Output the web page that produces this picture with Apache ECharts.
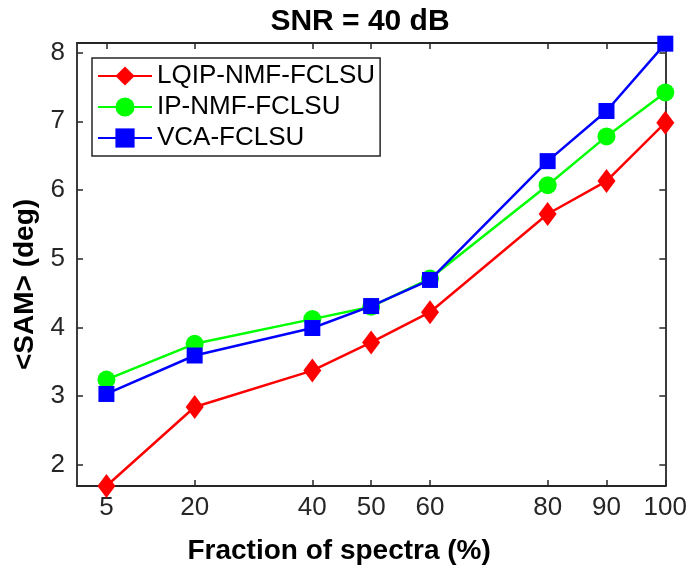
<!DOCTYPE html>
<html>
<head>
<meta charset="utf-8">
<script src="https://cdn.jsdelivr.net/npm/echarts@6/dist/echarts.min.js"></script>
<style>html,body{margin:0;padding:0;background:#fff}#c{width:690px;height:570px}</style>
</head>
<body>
<div id="c"></div>
<script>
const xValues = [5, 20, 40, 50, 60, 80, 90, 100];
const xTicks = [5, 20, 40, 50, 60, 80, 90, 100];
const yTicks = [2, 3, 4, 5, 6, 7, 8];
const lqip = [1.69, 2.84, 3.37, 3.78, 4.22, 5.65, 6.13, 6.98];
const ipnmf = [3.24, 3.76, 4.12, 4.30, 4.71, 6.07, 6.78, 7.42];
const vca = [3.03, 3.59, 3.99, 4.31, 4.69, 6.42, 7.15, 8.13];
const seriesNames = ['LQIP-NMF-FCLSU', 'IP-NMF-FCLSU', 'VCA-FCLSU'];

const FONT = "'Liberation Sans', Arial, Helvetica, sans-serif";
const AX = '#262626';
const pairs = arr => xValues.map((x, i) => [x, arr[i]]);

const chart = echarts.init(document.getElementById('c'), null, {renderer: 'canvas'});
const axisCommon = {
  axisLine: {show: true, onZero: false, lineStyle: {color: AX, width: 1.8}},
  splitLine: {show: false}
};
chart.setOption({
  animation: false,
  backgroundColor: '#fff',
  title: {
    text: 'SNR = 40 dB', left: 355, top: 2, textAlign: 'center',
    textStyle: {fontFamily: FONT, fontSize: 30, fontWeight: 'bold', color: '#000'}
  },
  grid: {left: 77, right: 21, top: 43, bottom: 83, containLabel: false},
  legend: {
    orient: 'vertical', left: 92, top: 58,
    padding: [5, 5, 5, 5], itemGap: 5,
    itemWidth: 54, itemHeight: 24,
    borderColor: AX, borderWidth: 1.5, backgroundColor: '#fff',
    textStyle: {fontFamily: FONT, fontSize: 26, color: '#000'},
    data: seriesNames
  },
  xAxis: [Object.assign({
    type: 'value', min: 0, max: 100, position: 'bottom',
    name: 'Fraction of spectra (%)', nameLocation: 'middle', nameGap: 51,
    nameTextStyle: {fontFamily: FONT, fontSize: 28, fontWeight: 'bold', color: '#000', padding: [0, 64, 0, 0]},
    axisTick: {show: true, inside: true, length: 6, customValues: xTicks, lineStyle: {color: AX, width: 1.5}},
    axisLabel: {show: true, customValues: xTicks, margin: 9, fontFamily: FONT, fontSize: 26, color: AX}
  }, axisCommon), Object.assign({
    type: 'value', min: 0, max: 100, position: 'top',
    axisTick: {show: true, inside: true, length: 6, customValues: xTicks, lineStyle: {color: AX, width: 1.5}},
    axisLabel: {show: false}
  }, axisCommon)],
  yAxis: [Object.assign({
    type: 'value', min: 1.69, max: 8.14, position: 'left',
    name: '<SAM> (deg)', nameLocation: 'middle', nameGap: 31, nameRotate: 90,
    nameTextStyle: {fontFamily: FONT, fontSize: 28, fontWeight: 'bold', color: '#000', padding: [0, 40, 0, 0]},
    axisTick: {show: true, inside: true, length: 6, customValues: yTicks, lineStyle: {color: AX, width: 1.5}},
    axisLabel: {show: true, customValues: yTicks, margin: 12, fontFamily: FONT, fontSize: 26, color: AX}
  }, axisCommon), Object.assign({
    type: 'value', min: 1.69, max: 8.14, position: 'right',
    axisTick: {show: true, inside: true, length: 6, customValues: yTicks, lineStyle: {color: AX, width: 1.5}},
    axisLabel: {show: false}
  }, axisCommon)],
  series: [
    {name: seriesNames[0], type: 'line', data: pairs(lqip), symbol: 'diamond', symbolSize: [18, 24],
     itemStyle: {color: '#ff0000'}, lineStyle: {color: '#ff0000', width: 2.5}, z: 2},
    {name: seriesNames[1], type: 'line', data: pairs(ipnmf), symbol: 'circle', symbolSize: 18,
     itemStyle: {color: '#00ff00'}, lineStyle: {color: '#00ff00', width: 2.5}, z: 3},
    {name: seriesNames[2], type: 'line', data: pairs(vca), symbol: 'rect', symbolSize: 16,
     itemStyle: {color: '#0000ff'}, lineStyle: {color: '#0000ff', width: 2.5}, z: 4}
  ]
});
</script>
</body>
</html>
